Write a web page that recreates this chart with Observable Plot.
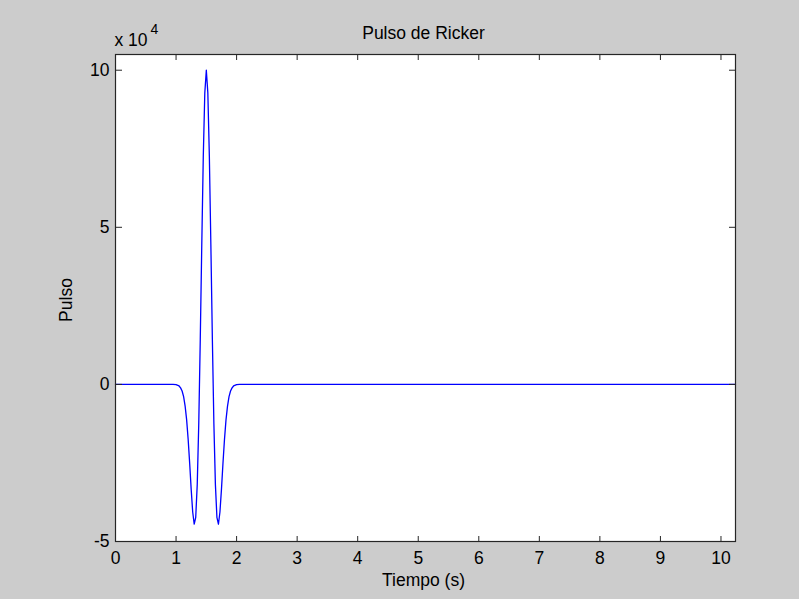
<!DOCTYPE html>
<html>
<head>
<meta charset="utf-8">
<script src="https://cdn.jsdelivr.net/npm/d3@7"></script>
<script src="https://cdn.jsdelivr.net/npm/@observablehq/plot@0.6"></script>
<style>
  html, body { margin: 0; padding: 0; background: #cccccc; }
  #chart { width: 799px; height: 599px; }
</style>
</head>
<body>
<div id="chart"></div>
<script>
// Ricker pulse samples: time (s) and amplitude (in units of 10^4)
const tiempo = [
  0, 0.95, 1.0, 1.05, 1.075, 1.1, 1.125, 1.15, 1.175, 1.2, 1.225, 1.25, 1.275,
  1.3, 1.325, 1.35, 1.375, 1.4, 1.425, 1.45, 1.475, 1.5,
  1.525, 1.55, 1.575, 1.6, 1.625, 1.65, 1.675, 1.7, 1.725, 1.75, 1.775,
  1.8, 1.825, 1.85, 1.875, 1.9, 1.925, 1.95, 2.0, 2.05, 10.24
];
const pulso = [
  0, 0, -0.01, -0.05, -0.11, -0.21, -0.39, -0.69, -1.13, -1.75, -2.51, -3.34, -4.06,
  -4.45, -4.23, -3.19, -1.26, 1.42, 4.45, 7.27, 9.28, 10.0,
  9.28, 7.27, 4.45, 1.42, -1.26, -3.19, -4.23, -4.45, -4.06, -3.34, -2.51,
  -1.75, -1.13, -0.69, -0.39, -0.21, -0.11, -0.05, -0.01, 0, 0
];
const xTicks = [0, 1, 2, 3, 4, 5, 6, 7, 8, 9, 10];
const yTicks = [-5, 0, 5, 10];
const xDomain = [0, 10.24];
const yDomain = [-5, 10.5];

const titulo = "Pulso de Ricker";
const etiquetaX = "Tiempo (s)";
const etiquetaY = "Pulso";
const exponente = ["x 10", "4"];

const W = 799, H = 599;
const mL = 115, mR = 64, mT = 54, mB = 58;
const plotW = W - mL - mR;
const plotH = H - mT - mB;
const ink = "#262626";
const fmt = d => String(d); // plain hyphen for negatives

const chart = Plot.plot({
  width: W,
  height: H,
  marginLeft: mL,
  marginRight: mR,
  marginTop: mT,
  marginBottom: mB,
  style: {
    background: "#cccccc",
    fontFamily: "'Liberation Sans', Arial, sans-serif",
    fontSize: "17.5px",
    color: "black"
  },
  x: { domain: xDomain, label: null },
  y: { domain: yDomain, label: null },
  marks: [
    Plot.frame({ fill: "white", stroke: null }),
    Plot.line(tiempo, { x: tiempo, y: pulso, stroke: "#0000ff", strokeWidth: 1.3 }),
    // tick labels
    Plot.axisX(xTicks, { anchor: "bottom", tickSize: 0, tickPadding: 10, tickFormat: fmt, label: null }),
    Plot.axisY(yTicks, { anchor: "left", tickSize: 0, tickPadding: 6, tickFormat: fmt, label: null }),
    // inward ticks on all four sides of the box
    Plot.axisX(xTicks, { anchor: "top", tickSize: 6, text: null, label: null, dy: plotH, stroke: ink }),
    Plot.axisX(xTicks, { anchor: "bottom", tickSize: 6, text: null, label: null, dy: -plotH, stroke: ink }),
    Plot.axisY(yTicks, { anchor: "right", tickSize: 6, text: null, label: null, dx: -plotW, stroke: ink }),
    Plot.axisY(yTicks, { anchor: "left", tickSize: 6, text: null, label: null, dx: plotW, stroke: ink }),
    Plot.frame({ stroke: ink, strokeWidth: 1.2 }),
    // title, axis labels and exponent
    Plot.text([titulo], { text: d => d, frameAnchor: "top", dx: -2, dy: -16, lineAnchor: "bottom", fontSize: 17.5 }),
    Plot.text([etiquetaX], { text: d => d, frameAnchor: "bottom", dx: -2, dy: 44, lineAnchor: "bottom", fontSize: 17.5 }),
    Plot.text([etiquetaY], { text: d => d, frameAnchor: "left", dx: -49, dy: 2, rotate: -90, textAnchor: "middle", lineAnchor: "middle", fontSize: 17.5 }),
    Plot.text([exponente[0]], { text: d => d, frameAnchor: "top-left", dx: -1, dy: -9, textAnchor: "start", lineAnchor: "bottom", fontSize: 17.5 }),
    Plot.text([exponente[1]], { text: d => d, frameAnchor: "top-left", dx: 35, dy: -21, textAnchor: "start", lineAnchor: "bottom", fontSize: 14 })
  ]
});

document.getElementById("chart").appendChild(chart);
</script>
</body>
</html>
